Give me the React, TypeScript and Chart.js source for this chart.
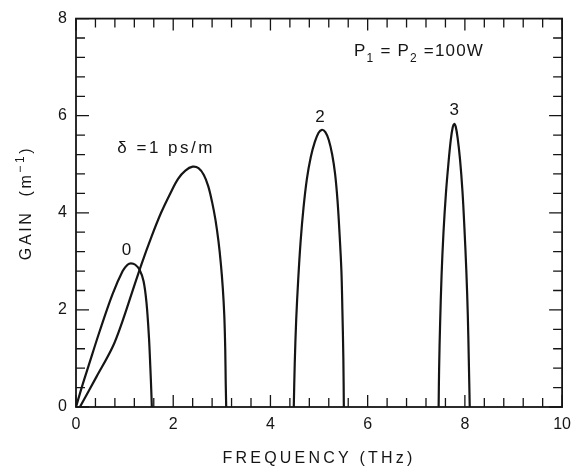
import React, { useEffect, useRef } from "react";
import { Chart, registerables } from "chart.js";

Chart.register(...registerables);

// ---- data ----
const xTickValues = [0, 2, 4, 6, 8, 10];
const yTickValues = [0, 2, 4, 6, 8];

const mode0X = [0, 0.12, 0.25, 0.49, 0.75, 0.96, 1.06, 1.13, 1.22, 1.31, 1.39, 1.45, 1.5, 1.53, 1.55, 1.56];
const mode0Y = [0, 0.41, 0.82, 1.57, 2.32, 2.8, 2.93, 2.96, 2.93, 2.82, 2.59, 2.15, 1.45, 0.8, 0.3, 0];

const mode1X = [0.08, 0.42, 0.75, 0.95, 1.15, 1.35, 1.55, 1.75, 1.95, 2.1, 2.25, 2.4, 2.52, 2.63, 2.72, 2.8, 2.87, 2.93, 2.98, 3.02, 3.05, 3.07, 3.08, 3.09];
const mode1Y = [0, 0.62, 1.23, 1.75, 2.35, 2.95, 3.5, 4.0, 4.42, 4.7, 4.87, 4.95, 4.92, 4.78, 4.55, 4.22, 3.85, 3.42, 2.95, 2.45, 1.9, 1.2, 0.5, 0];

const mode2X = [4.48, 4.5, 4.53, 4.57, 4.62, 4.68, 4.75, 4.83, 4.91, 4.99, 5.06, 5.13, 5.2, 5.27, 5.33, 5.38, 5.42, 5.46, 5.48, 5.5, 5.51];
const mode2Y = [0, 0.9, 1.8, 2.6, 3.4, 4.1, 4.7, 5.15, 5.45, 5.65, 5.71, 5.66, 5.5, 5.2, 4.8, 4.25, 3.6, 2.8, 2.0, 1.0, 0];

const mode3X = [7.46, 7.47, 7.49, 7.52, 7.56, 7.61, 7.66, 7.71, 7.75, 7.78, 7.81, 7.85, 7.9, 7.95, 7.99, 8.03, 8.06, 8.08, 8.1];
const mode3Y = [0, 0.8, 1.7, 2.7, 3.6, 4.4, 5.0, 5.5, 5.76, 5.83, 5.78, 5.55, 5.1, 4.45, 3.7, 2.8, 1.9, 1.0, 0];

const curveLabels = ["0", "2", "3"];
const curveLabelX = [1.04, 5.02, 7.78];
const curveLabelY = [3.14, 5.88, 6.02];

const xTitle = "FREQUENCY (THz)";

const INK = "#151515";
const FONT = '"Liberation Sans", Arial, sans-serif';

type Run = { t: string; s?: "sub" | "sup" };

function runsWidth(ctx: CanvasRenderingContext2D, runs: Run[], size: number) {
  let w = 0;
  for (const r of runs) {
    const fs = r.s ? Math.round(size * 0.72) : size;
    ctx.font = `${fs}px ${FONT}`;
    w += ctx.measureText(r.t).width;
  }
  return w;
}

function drawRuns(
  ctx: CanvasRenderingContext2D,
  runs: Run[],
  x: number,
  y: number,
  size: number,
  spacing: number,
  align: "left" | "center"
) {
  (ctx as any).letterSpacing = `${spacing}px`;
  ctx.textAlign = "left";
  ctx.textBaseline = "alphabetic";
  const w = runsWidth(ctx, runs, size);
  let cx = align === "center" ? x - w / 2 : x;
  for (const r of runs) {
    const fs = r.s ? Math.round(size * 0.72) : size;
    ctx.font = `${fs}px ${FONT}`;
    const dy = r.s === "sub" ? size * 0.3 : r.s === "sup" ? -size * 0.45 : 0;
    ctx.fillText(r.t, cx, y + dy);
    cx += ctx.measureText(r.t).width;
  }
  (ctx as any).letterSpacing = "0px";
}

const overlay = {
  id: "overlay",
  afterDraw(chart: any) {
    const { ctx, chartArea: a, scales } = chart;
    const xs = scales.x;
    const ys = scales.y;
    ctx.save();
    ctx.strokeStyle = INK;
    ctx.fillStyle = INK;
    ctx.lineWidth = 1.8;
    ctx.strokeRect(a.left, a.top, a.right - a.left, a.bottom - a.top);

    ctx.lineWidth = 1.3;
    ctx.beginPath();
    for (let i = 0; i <= 25; i++) {
      const px = xs.getPixelForValue(i * 0.4);
      const L = i % 5 === 0 ? 12 : 9;
      ctx.moveTo(px, a.bottom);
      ctx.lineTo(px, a.bottom - L);
      ctx.moveTo(px, a.top);
      ctx.lineTo(px, a.top + L);
    }
    for (let i = 0; i <= 20; i++) {
      const py = ys.getPixelForValue(i * 0.4);
      const L = i % 5 === 0 ? 13 : 9;
      ctx.moveTo(a.left, py);
      ctx.lineTo(a.left + L, py);
      ctx.moveTo(a.right, py);
      ctx.lineTo(a.right - L, py);
    }
    ctx.stroke();

    // curve labels
    for (let i = 0; i < curveLabels.length; i++) {
      drawRuns(
        ctx,
        [{ t: curveLabels[i] }],
        xs.getPixelForValue(curveLabelX[i]),
        ys.getPixelForValue(curveLabelY[i]),
        17,
        0,
        "center"
      );
    }

    // delta annotation
    drawRuns(
      ctx,
      [{ t: "δ =1 ps/m" }],
      xs.getPixelForValue(0.85),
      ys.getPixelForValue(5.24),
      17,
      2.5,
      "left"
    );

    // power annotation
    drawRuns(
      ctx,
      [{ t: "P" }, { t: "1", s: "sub" }, { t: " = P" }, { t: "2", s: "sub" }, { t: " =100W" }],
      xs.getPixelForValue(5.72),
      ys.getPixelForValue(7.22),
      17,
      1.2,
      "left"
    );

    // x title
    drawRuns(ctx, [{ t: xTitle }], (a.left + a.right) / 2, 463, 16, 3.2, "center");

    // y title (rotated)
    ctx.save();
    ctx.translate(31, 203);
    ctx.rotate(-Math.PI / 2);
    drawRuns(ctx, [{ t: "GAIN  (m" }, { t: "−1", s: "sup" }, { t: ")" }], 0, 0, 16, 2.6, "center");
    ctx.restore();

    ctx.restore();
  },
};

function makePoints(xs: number[], ys: number[]) {
  return xs.map((x, i) => ({ x, y: ys[i] }));
}

export default function App() {
  const ref = useRef<HTMLCanvasElement | null>(null);

  useEffect(() => {
    document.body.style.margin = "0";
    const canvas = ref.current;
    if (!canvas) return;
    const curves = [
      makePoints(mode0X, mode0Y),
      makePoints(mode1X, mode1Y),
      makePoints(mode2X, mode2Y),
      makePoints(mode3X, mode3Y),
    ];
    const chart = new Chart(canvas, {
      type: "scatter",
      data: {
        datasets: curves.map((pts) => ({
          data: pts,
          showLine: true,
          borderColor: INK,
          borderWidth: 2.2,
          pointRadius: 0,
          tension: 0.35,
          fill: false,
        })),
      },
      options: {
        responsive: false,
        animation: false,
        events: [],
        layout: { padding: { left: 0, top: 15, right: 8, bottom: 0 } },
        plugins: { legend: { display: false }, tooltip: { enabled: false } },
        scales: {
          x: {
            type: "linear",
            min: 0,
            max: 10,
            afterBuildTicks: (s: any) => {
              s.ticks = xTickValues.map((v) => ({ value: v }));
            },
            afterFit: (s: any) => {
              s.height = 60;
            },
            grid: { display: false, drawTicks: false },
            border: { display: false },
            ticks: {
              color: INK,
              font: { family: FONT, size: 16 },
              padding: 8,
              maxRotation: 0,
              autoSkip: false,
            },
          },
          y: {
            type: "linear",
            min: 0,
            max: 8,
            afterBuildTicks: (s: any) => {
              s.ticks = yTickValues.map((v) => ({ value: v }));
            },
            afterFit: (s: any) => {
              s.width = 76;
            },
            grid: { display: false, drawTicks: false },
            border: { display: false },
            ticks: {
              color: INK,
              font: { family: FONT, size: 16 },
              padding: 9,
              autoSkip: false,
            },
          },
        },
      },
      plugins: [overlay],
    });
    return () => chart.destroy();
  }, []);

  return (
    <div style={{ position: "fixed", left: 0, top: 0, width: 579, height: 467, background: "#fff" }}>
      <canvas ref={ref} width={579} height={467} style={{ display: "block" }} />
    </div>
  );
}
